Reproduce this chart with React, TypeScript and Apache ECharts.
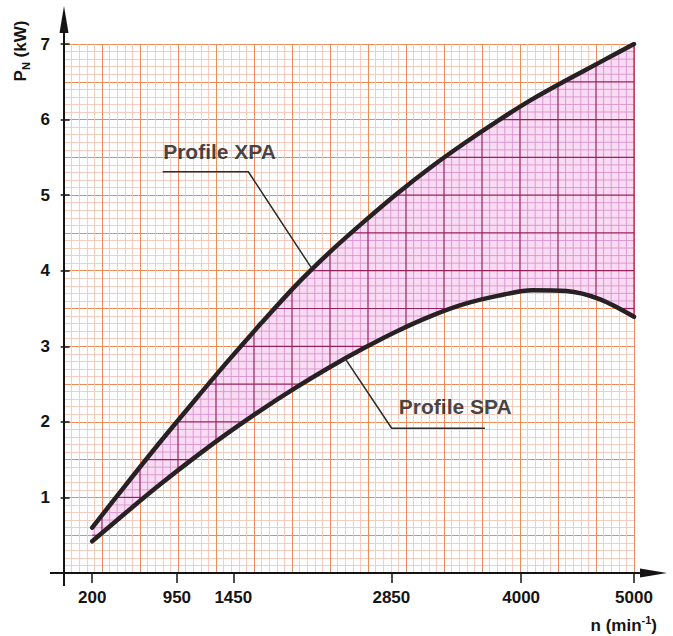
import React, { useEffect, useRef } from 'react';
import * as echarts from 'echarts';

// ---- data ----
const speeds = [200, 500, 800, 1100, 1400, 1700, 2000, 2300, 2600, 2900, 3200, 3500, 3800, 4100, 4400, 4700, 5000];
const powerXPA = [0.6, 1.17, 1.73, 2.27, 2.8, 3.31, 3.8, 4.24, 4.64, 5.02, 5.37, 5.69, 5.99, 6.27, 6.52, 6.76, 7.0];
const powerSPA = [0.42, 0.8, 1.17, 1.52, 1.85, 2.16, 2.45, 2.72, 2.97, 3.2, 3.4, 3.56, 3.67, 3.74, 3.73, 3.62, 3.39];
const speedTicks = [200, 950, 1450, 2850, 4000, 5000];
const leaderXPA = [[824, 5.31], [1583, 5.31], [2145, 4.03]];
const leaderSPA = [[2440, 2.84], [2853, 1.915], [3680, 1.915]];
const profileLabels = [
  { name: 'Profile XPA', value: [824, 5.58] },
  { name: 'Profile SPA', value: [2912, 2.2] },
];

const FONT = '"Liberation Sans", Arial, Helvetica, sans-serif';
const INK = '#151314';
const PAPER_MAJOR = '#ec8d58';
const PAPER_MINOR = '#f6c6b8';
const ZONE_FILL = '#f9dcf4';
const ZONE_MAJOR = '#9b1f5d';
const ZONE_MINOR = '#d993cd';

export default function App() {
  const ref = useRef<HTMLDivElement>(null);
  useEffect(() => {
    if (!ref.current) return;
    const chart = echarts.init(ref.current, undefined, { renderer: 'svg' });

    const renderZone = (params: any, api: any) => {
      if (params.dataIndex !== 0) return null;
      const cs = params.coordSys;
      const up = speeds.map((s, i) => api.coord([s, powerXPA[i]]));
      const lo = speeds.map((s, i) => api.coord([s, powerSPA[i]]));
      const interp = (pts: number[][], px: number) => {
        for (let k = 0; k < pts.length - 1; k++) {
          const a = pts[k], b = pts[k + 1];
          if (px >= a[0] - 1e-6 && px <= b[0] + 1e-6) {
            const t = (px - a[0]) / (b[0] - a[0]);
            return a[1] + t * (b[1] - a[1]);
          }
        }
        return NaN;
      };
      const x0 = up[0][0];
      const x1 = up[up.length - 1][0];
      const minors: any[] = [];
      const majors: any[] = [];
      const nx = 75, ny = 70;
      const push = (major: boolean, shape: any) =>
        (major ? majors : minors).push({
          type: 'line',
          shape,
          style: { stroke: major ? ZONE_MAJOR : ZONE_MINOR, lineWidth: major ? 1.2 : 0.9 },
        });
      for (let i = 0; i <= nx; i++) {
        const px = cs.x + (i * cs.width) / nx;
        if (px < x0 || px > x1 + 0.5) continue;
        const p = Math.min(px, x1);
        push(i % 5 === 0, { x1: p, y1: interp(up, p), x2: p, y2: interp(lo, p) });
      }
      for (let j = 0; j <= ny; j++) {
        const py = cs.y + (j * cs.height) / ny;
        const major = j % 5 === 0;
        let start: number | null = null;
        let last = x0;
        for (let px = x0; px <= x1 + 0.25; px += 0.5) {
          const p = Math.min(px, x1);
          const inside = interp(up, p) <= py && py <= interp(lo, p);
          if (inside && start === null) start = p;
          if (!inside && start !== null) {
            push(major, { x1: start, y1: py, x2: last, y2: py });
            start = null;
          }
          last = p;
        }
        if (start !== null) push(major, { x1: start, y1: py, x2: x1, y2: py });
      }
      return {
        type: 'group',
        children: [
          { type: 'polygon', shape: { points: [...up, ...lo.slice().reverse()] }, style: { fill: ZONE_FILL } },
          ...minors,
          ...majors,
        ],
      };
    };

    const labelText = { fontFamily: FONT, fontWeight: 'bold' as const, color: INK, fontSize: 17 };

    const option: any = {
      animation: false,
      backgroundColor: '#ffffff',
      grid: { left: 64, right: 39, top: 44, bottom: 63 },
      xAxis: [
        {
          type: 'value',
          min: -50,
          max: 5000,
          position: 'bottom',
          axisLine: { show: false },
          axisTick: { show: true, customValues: speedTicks, length: 10, lineStyle: { color: INK, width: 1.5 } },
          axisLabel: { customValues: speedTicks, margin: 16, formatter: (v: number) => String(v), ...labelText },
          splitLine: { show: false },
        },
        {
          type: 'value',
          min: 0,
          max: 15,
          interval: 1,
          position: 'top',
          axisLine: { show: false },
          axisTick: { show: false },
          axisLabel: { show: false },
          splitLine: { show: true, lineStyle: { color: PAPER_MAJOR, width: 1 } },
          minorTick: { show: false, splitNumber: 5 },
          minorSplitLine: { show: true, lineStyle: { color: PAPER_MINOR, width: 0.9 } },
        },
      ],
      yAxis: [
        {
          type: 'value',
          min: 0,
          max: 7,
          interval: 1,
          axisLine: { show: false },
          axisTick: { show: true, length: 9, lineStyle: { color: INK, width: 1.5 } },
          axisLabel: { margin: 14, formatter: (v: number) => (v === 0 ? '' : String(v)), ...labelText },
          splitLine: { show: false },
        },
        {
          type: 'value',
          min: 0,
          max: 14,
          interval: 1,
          position: 'right',
          axisLine: { show: false },
          axisTick: { show: false },
          axisLabel: { show: false },
          splitLine: { show: true, lineStyle: { color: PAPER_MAJOR, width: 1 } },
          minorTick: { show: false, splitNumber: 5 },
          minorSplitLine: { show: true, lineStyle: { color: PAPER_MINOR, width: 0.9 } },
        },
      ],
      series: [
        {
          type: 'custom',
          xAxisIndex: 0,
          yAxisIndex: 0,
          data: [[speeds[0], powerSPA[0]]],
          renderItem: renderZone,
          z: 2,
          silent: true,
        },
        {
          type: 'line',
          name: 'Profile XPA',
          data: speeds.map((s, i) => [s, powerXPA[i]]),
          smooth: 0.3,
          symbol: 'none',
          lineStyle: { color: '#272123', width: 4.5, cap: 'round' },
          z: 3,
        },
        {
          type: 'line',
          name: 'Profile SPA',
          data: speeds.map((s, i) => [s, powerSPA[i]]),
          smooth: 0.3,
          symbol: 'none',
          lineStyle: { color: '#272123', width: 4.5, cap: 'round' },
          z: 3,
        },
        {
          type: 'line',
          data: leaderXPA,
          symbol: 'none',
          lineStyle: { color: '#2b2b2b', width: 1.5 },
          z: 4,
        },
        {
          type: 'line',
          data: leaderSPA,
          symbol: 'none',
          lineStyle: { color: '#2b2b2b', width: 1.5 },
          z: 4,
        },
        {
          type: 'scatter',
          data: profileLabels,
          symbolSize: 1,
          itemStyle: { color: 'rgba(0,0,0,0)' },
          label: {
            show: true,
            position: 'right',
            distance: 0,
            formatter: (p: any) => p.name,
            fontFamily: FONT,
            fontWeight: 'bold',
            fontSize: 21,
            color: INK,
          },
          z: 5,
        },
      ],
    };
    chart.setOption(option);

    const [ox, oy] = chart.convertToPixel({ xAxisIndex: 0, yAxisIndex: 0 }, [-50, 0]) as number[];
    const axisStyle = { stroke: INK, lineWidth: 2 };
    chart.setOption({
      graphic: [
        { type: 'line', shape: { x1: ox - 14, y1: oy, x2: 645, y2: oy }, style: axisStyle, z: 10 },
        { type: 'polygon', shape: { points: [[667, oy], [640, oy - 4.5], [640, oy + 4.5]] }, style: { fill: INK }, z: 10 },
        { type: 'line', shape: { x1: ox, y1: oy + 13, x2: ox, y2: 28 }, style: axisStyle, z: 10 },
        { type: 'polygon', shape: { points: [[ox, 6], [ox - 4.5, 33], [ox + 4.5, 33]] }, style: { fill: INK }, z: 10 },
        {
          type: 'text',
          x: 20,
          y: 51,
          rotation: Math.PI / 2,
          z: 10,
          style: {
            text: '{a|P}{sub|N}{a| (kW)}',
            align: 'center',
            verticalAlign: 'middle',
            rich: {
              a: { fontFamily: FONT, fontWeight: 'bold', fontSize: 17, lineHeight: 22, fill: INK },
              sub: { fontFamily: FONT, fontWeight: 'bold', fontSize: 11, lineHeight: 11, verticalAlign: 'bottom', fill: INK },
            },
          },
        },
        {
          type: 'text',
          x: 657,
          y: 625,
          z: 10,
          style: {
            text: '{a|n (min}{sup|-1}{a|)}',
            align: 'right',
            verticalAlign: 'middle',
            rich: {
              a: { fontFamily: FONT, fontWeight: 'bold', fontSize: 17, lineHeight: 22, fill: INK },
              sup: { fontFamily: FONT, fontWeight: 'bold', fontSize: 11, lineHeight: 11, verticalAlign: 'top', fill: INK },
            },
          },
        },
      ],
    });

    return () => chart.dispose();
  }, []);
  return <div ref={ref} style={{ position: 'fixed', left: 0, top: 0, width: 673, height: 636 }} />;
}
